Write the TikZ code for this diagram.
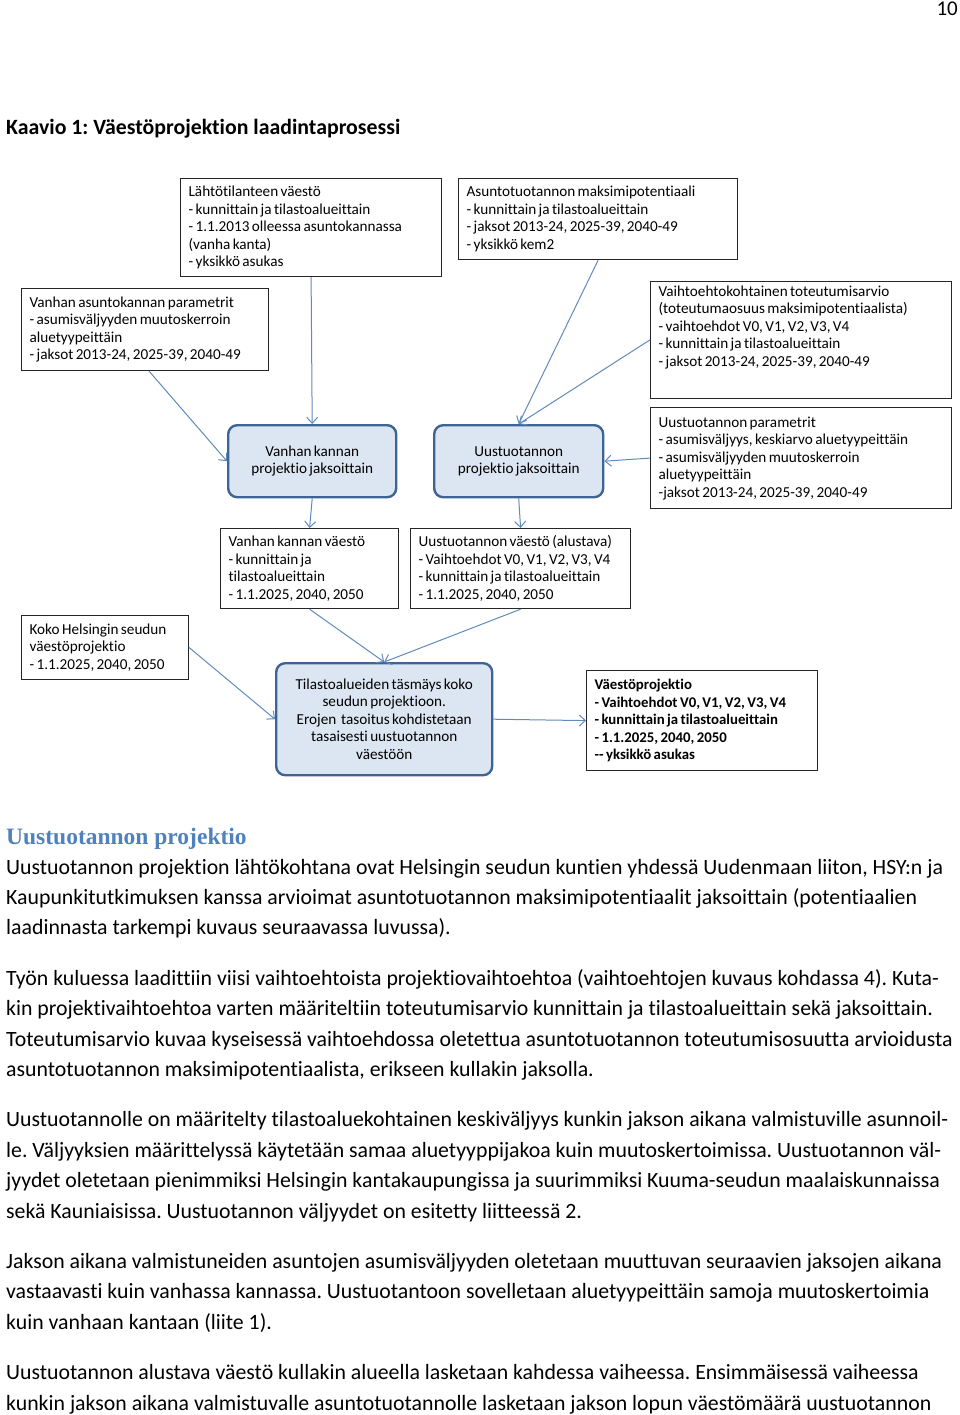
\documentclass[tikz,border=0pt]{standalone}
\usepackage{fontspec}
\setmainfont{Carlito}[Ligatures={NoCommon}]
\newfontfamily\headfont{Liberation Serif}
\usepackage{xcolor}
\usetikzlibrary{arrows.meta,positioning}
\definecolor{arrowblue}{RGB}{96,138,188}
\definecolor{projfill}{RGB}{220,230,242}
\definecolor{projline}{RGB}{62,100,148}
\definecolor{headblue}{RGB}{79,129,189}
\newcommand{\boxfont}{\fontsize{15.2}{17.5}\selectfont\spaceskip=2.4pt plus 1pt minus 0.5pt}
\tikzset{
  infobox/.style={rectangle, draw=black!85, line width=1.2pt, fill=white, anchor=north west,
    inner xsep=8pt, inner ysep=4pt, align=flush left, font=\boxfont},
  projbox/.style={rectangle, rounded corners=9pt, draw=projline, line width=2.4pt, fill=projfill,
    anchor=north west, align=center, font=\boxfont},
  arr/.style={-{Straight Barb[length=6pt,width=11pt]}, draw=arrowblue, line width=1pt},
  bodytext/.style={anchor=base west, inner sep=0pt, font=\fontsize{21.8}{30}\selectfont},
}
\frenchspacing

\begin{document}
\begin{tikzpicture}[x=1pt, y=-1pt]
  \useasboundingbox (0,0) rectangle (960,1415);
  \node[anchor=base east, inner sep=0pt, font=\fontsize{21}{24}\selectfont] (pagenum) at (958,16) {10};
  \node[bodytext, font=\fontsize{21.8}{24}\selectfont\bfseries] (title) at (6,135)
    {Kaavio 1: Väestöprojektion laadintaprosessi};

  % input boxes
  \node[infobox, text width=245pt, minimum height=98pt] (lahto) at (180,178)
    {Lähtötilanteen väestö\\- kunnittain ja tilastoalueittain\\- 1.1.2013 olleessa asuntokannassa\\(vanha kanta)\\- yksikkö asukas};
  \node[infobox, text width=263pt, minimum height=81pt] (maksimi) at (458,178)
    {Asuntotuotannon maksimipotentiaali\\- kunnittain ja tilastoalueittain\\- jaksot 2013-24, 2025-39, 2040-49\\- yksikkö kem2};
  \node[infobox, text width=231pt, minimum height=82pt] (vanhapar) at (21,288)
    {Vanhan asuntokannan parametrit\\- asumisväljyyden muutoskerroin\\aluetyypeittäin\\- jaksot 2013-24, 2025-39, 2040-49};
  \node[infobox, text width=285pt, text depth=98pt] (vaihto) at (650,281)
    {Vaihtoehtokohtainen toteutumisarvio\\(toteutumaosuus maksimipotentiaalista)\\- vaihtoehdot V0, V1, V2, V3, V4\\- kunnittain ja tilastoalueittain\\- jaksot 2013-24, 2025-39, 2040-49};
  \node[infobox, text width=285pt, minimum height=101pt] (uuspar) at (650,407)
    {Uustuotannon parametrit\\- asumisväljyys, keskiarvo aluetyypeittäin\\- asumisväljyyden muutoskerroin\\aluetyypeittäin\\-jaksot 2013-24, 2025-39, 2040-49};

  % projections
  \node[projbox, minimum width=168pt, minimum height=72pt] (vanhaproj) at (227,424)
    {Vanhan kannan\\projektio jaksoittain};
  \node[projbox, minimum width=169pt, minimum height=72pt] (uusproj) at (433,424)
    {Uustuotannon\\projektio jaksoittain};

  \node[infobox, text width=162pt, minimum height=80pt] (vanhavaesto) at (220,528)
    {Vanhan kannan väestö\\- kunnittain ja\\tilastoalueittain\\- 1.1.2025, 2040, 2050};
  \node[infobox, text width=204pt, minimum height=80pt] (uusvaesto) at (410,528)
    {Uustuotannon väestö (alustava)\\- Vaihtoehdot V0, V1, V2, V3, V4\\- kunnittain ja tilastoalueittain\\- 1.1.2025, 2040, 2050};
  \node[infobox, text width=151pt, minimum height=64pt] (koko) at (21,615)
    {Koko Helsingin seudun\\väestöprojektio\\- 1.1.2025, 2040, 2050};

  \node[projbox, minimum width=216pt, minimum height=112pt] (tasmays) at (275,662)
    {Tilastoalueiden täsmäys koko\\seudun projektioon.\\Erojen\ \ tasoitus kohdistetaan\\tasaisesti uustuotannon\\väestöön};
  \node[infobox, text width=215pt, minimum height=100pt, font=\boxfont\fontsize{14.8}{17.5}\selectfont\bfseries] (vaestoproj) at (586,670)
    {Väestöprojektio\\- Vaihtoehdot V0, V1, V2, V3, V4\\- kunnittain ja tilastoalueittain\\- 1.1.2025, 2040, 2050\\{-}{-} yksikkö asukas};

  \draw[arr] (lahto.south) -- (vanhaproj.north);
  \draw[arr] ([xshift=4pt]vanhapar.south) -- (vanhaproj.west);
  \draw[arr] (maksimi.south) -- (uusproj.north);
  \draw[arr] (vaihto.west) -- (uusproj.north);
  \draw[arr] (uuspar.west) -- (uusproj.east);
  \draw[arr] (vanhaproj.south) -- (vanhavaesto.north);
  \draw[arr] (uusproj.south) -- (uusvaesto.north);
  \draw[arr] (vanhavaesto.south) -- (tasmays.north);
  \draw[arr] (uusvaesto.south) -- (tasmays.north);
  \draw[arr] (koko.east) -- (tasmays.west);
  \draw[arr] (tasmays.east) -- (vaestoproj.west);

  % body text below the chart
  \node[anchor=base west, inner sep=0pt, text=headblue, font=\fontsize{23.5}{26}\selectfont\headfont\bfseries] (head) at (6,844)
    {Uustuotannon projektio};
  \node[bodytext] (l1) at (6,874) {Uustuotannon projektion lähtökohtana ovat Helsingin seudun kuntien yhdessä Uudenmaan liiton, HSY:n ja};
  \node[bodytext] (l2) at (6,904) {Kaupunkitutkimuksen kanssa arvioimat asuntotuotannon maksimipotentiaalit jaksoittain (potentiaalien};
  \node[bodytext] (l3) at (6,934) {laadinnasta tarkempi kuvaus seuraavassa luvussa).};
  \node[bodytext] (l4) at (6,985) {Työn kuluessa laadittiin viisi vaihtoehtoista projektiovaihtoehtoa (vaihtoehtojen kuvaus kohdassa 4). Kuta-};
  \node[bodytext] (l5) at (6,1015) {kin projektivaihtoehtoa varten määriteltiin toteutumisarvio kunnittain ja tilastoalueittain sekä jaksoittain.};
  \node[bodytext] (l6) at (6,1046) {Toteutumisarvio kuvaa kyseisessä vaihtoehdossa oletettua asuntotuotannon toteutumisosuutta arvioidusta};
  \node[bodytext] (l7) at (6,1076) {asuntotuotannon maksimipotentiaalista, erikseen kullakin jaksolla.};
  \node[bodytext] (l8) at (6,1126) {Uustuotannolle on määritelty tilastoaluekohtainen keskiväljyys kunkin jakson aikana valmistuville asunnoil-};
  \node[bodytext] (l9) at (6,1157) {le. Väljyyksien määrittelyssä käytetään samaa aluetyyppijakoa kuin muutoskertoimissa. Uustuotannon väl-};
  \node[bodytext] (l10) at (6,1187) {jyydet oletetaan pienimmiksi Helsingin kantakaupungissa ja suurimmiksi Kuuma-seudun maalaiskunnaissa};
  \node[bodytext] (l11) at (6,1218) {sekä Kauniaisissa. Uustuotannon väljyydet on esitetty liitteessä 2.};
  \node[bodytext] (l12) at (6,1268) {Jakson aikana valmistuneiden asuntojen asumisväljyyden oletetaan muuttuvan seuraavien jaksojen aikana};
  \node[bodytext] (l13) at (6,1298) {vastaavasti kuin vanhassa kannassa. Uustuotantoon sovelletaan aluetyypeittäin samoja muutoskertoimia};
  \node[bodytext] (l14) at (6,1329) {kuin vanhaan kantaan (liite 1).};
  \node[bodytext] (l15) at (6,1379) {Uustuotannon alustava väestö kullakin alueella lasketaan kahdessa vaiheessa. Ensimmäisessä vaiheessa};
  \node[bodytext] (l16) at (6,1410) {kunkin jakson aikana valmistuvalle asuntotuotannolle lasketaan jakson lopun väestömäärä uustuotannon};
\end{tikzpicture}
\end{document}
